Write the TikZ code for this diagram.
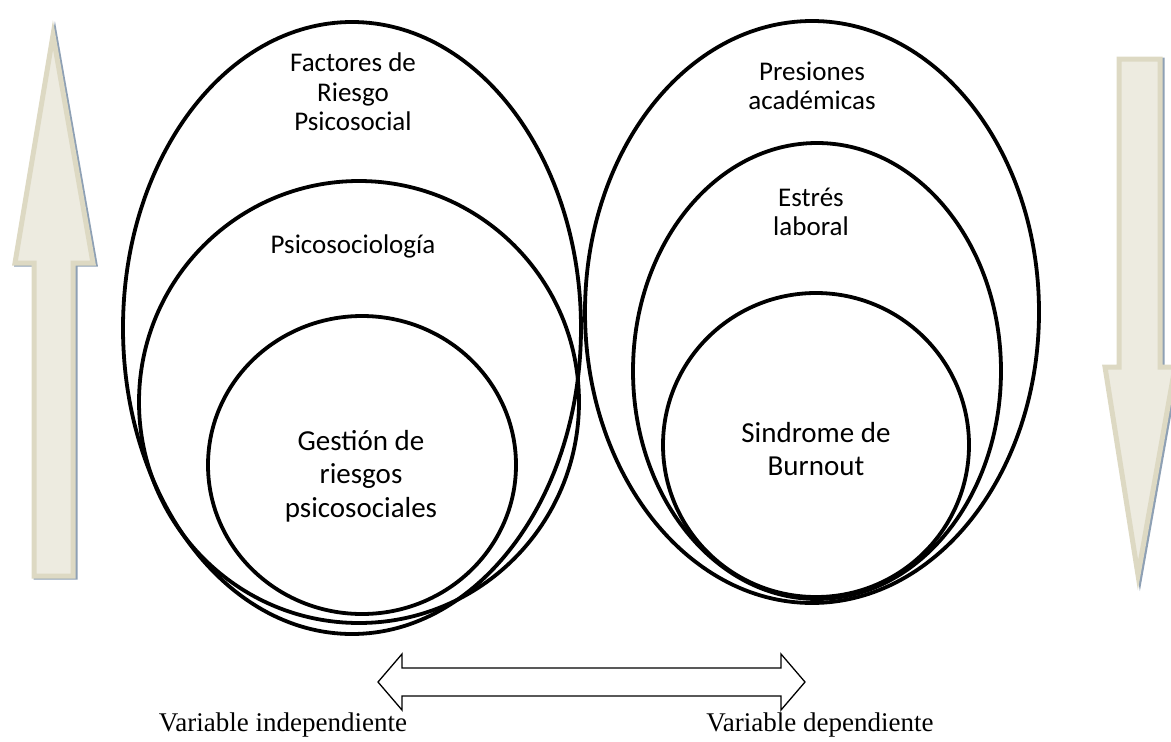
\documentclass[tikz,border=0pt]{standalone}
\usepackage{fontspec}
\setmainfont{Carlito}
\newfontfamily\serifbottom{Liberation Serif}
\definecolor{arrfill}{HTML}{EDEBE0}
\definecolor{arrline}{HTML}{DDD9C3}
\definecolor{arrshadow}{HTML}{8EA0B4}
\begin{document}
\begin{tikzpicture}[x=1pt,y=-1pt,
  ring/.style={draw=black,line width=3.8pt},
  smalltxt/.style={align=center,font=\fontsize{27}{29.5}\selectfont,inner sep=0pt},
  bigtxt/.style={align=center,font=\fontsize{29}{33.5}\selectfont,inner sep=0pt},
  bottxt/.style={font=\serifbottom\fontsize{27}{30}\selectfont,inner sep=0pt},
  bigarrow/.style={fill=arrfill,draw=arrline,line width=5pt,line join=miter},
  arrshade/.style={fill=arrshadow,draw=arrshadow,line width=5pt},
  dblarrow/.style={draw=black,line width=1.3pt,fill=white,line join=miter}]
\useasboundingbox (0,0) rectangle (1171,742);
\clip (0,0) rectangle (1171,742);
% left up arrow (shadow then body)
\begin{scope}[shift={(2,1)}]
\draw[arrshade] (53,35) -- (93,263) -- (73,263) -- (73,576) -- (34,576) -- (34,263) -- (15,263) -- cycle;
\end{scope}
\draw[bigarrow] (53,35) -- (93,263) -- (73,263) -- (73,576) -- (34,576) -- (34,263) -- (15,263) -- cycle;
% right down arrow
\begin{scope}[shift={(2,1)}]
\draw[arrshade] (1119,59) -- (1160,59) -- (1160,367) -- (1175,367) -- (1138,575) -- (1105,367) -- (1119,367) -- cycle;
\end{scope}
\draw[bigarrow] (1119,59) -- (1160,59) -- (1160,367) -- (1175,367) -- (1138,575) -- (1105,367) -- (1119,367) -- cycle;
% left ellipses
\draw[ring] (352,328) ellipse [x radius=229, y radius=306];
\draw[ring] (359,402) ellipse [x radius=220, y radius=221];
\draw[ring] (362,465) ellipse [x radius=154, y radius=149];
% right ellipses
\draw[ring] (812,312) ellipse [x radius=227, y radius=291];
\draw[ring] (817,371) ellipse [x radius=184, y radius=228];
\draw[ring] (816,445) ellipse [x radius=153, y radius=152];
% texts
\node[smalltxt] (frp) at (353,92) {Factores de\\Riesgo\\Psicosocial};
\node[smalltxt] (psi) at (353,246) {Psicosociología};
\node[bigtxt] (grp) at (361,476) {Gestión de\\riesgos\\psicosociales};
\node[smalltxt] (pa) at (812,86) {Presiones\\académicas};
\node[smalltxt] (el) at (811,212) {Estrés\\laboral};
\node[bigtxt] (sb) at (816,449) {Sindrome de\\Burnout};
% double arrow
\coordinate (dl) at (378,682);
\coordinate (dr) at (805,682);
\draw[dblarrow] (dl) -- (402,654) -- (402,668) -- (781,668) -- (781,654) -- (dr) -- (781,710) -- (781,696) -- (402,696) -- (402,710) -- cycle;
\node[bottxt] (vi) at (283,725) {Variable independiente};
\node[bottxt] (vd) at (820,725) {Variable dependiente};
\end{tikzpicture}
\end{document}
